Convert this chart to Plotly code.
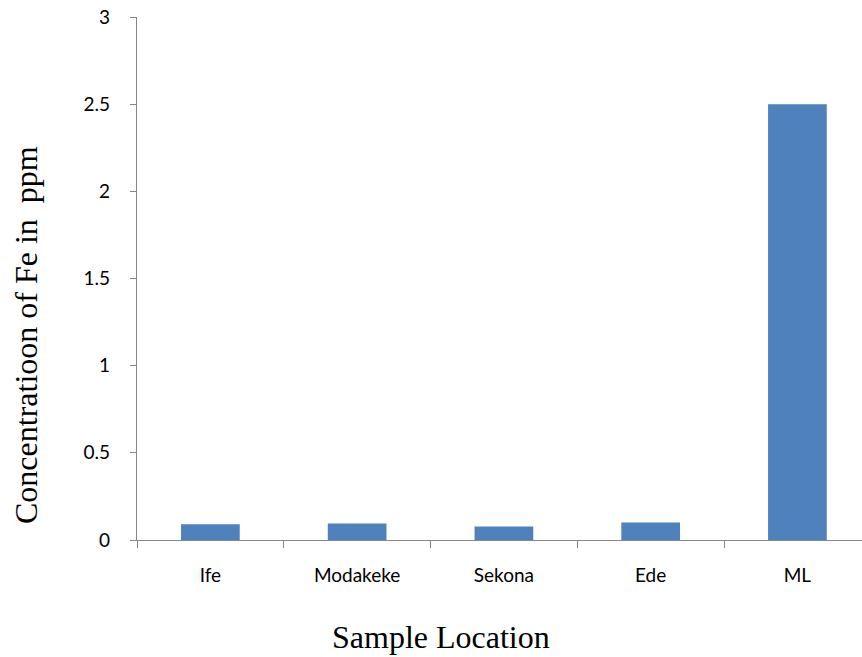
import plotly.graph_objects as go

categories = ["Ife", "Modakeke", "Sekona", "Ede", "ML"]
fe_ppm = [0.09, 0.095, 0.078, 0.1, 2.5]
y_ticks = [0, 0.5, 1, 1.5, 2, 2.5, 3]
y_tick_labels = ["0", "0.5", "1", "1.5", "2", "2.5", "3"]

W, H = 862, 657
L, R, T = 137, 0, 17
B = H - 540

fig = go.Figure(go.Bar(x=categories, y=fe_ppm, marker_color="#4F81BD",
                       marker_line_width=0, width=0.4))

fig.update_layout(
    width=W, height=H,
    margin=dict(l=L, r=R, t=T, b=B, autoexpand=False),
    paper_bgcolor="white", plot_bgcolor="white",
    showlegend=False,
    font=dict(family="Lato, Open Sans, sans-serif", size=19, color="black"),
    bargap=0.6,
)
fig.update_xaxes(
    range=[-0.5, 4.44], automargin=False,
    showline=True, linecolor="#868686", linewidth=1.3,
    ticks="outside", tickson="boundaries", ticklen=7, tickcolor="#868686",
    ticklabelstandoff=18, ticklabeloverflow="allow",
    showgrid=False, zeroline=False,
    tickfont=dict(size=19),
)
fig.update_yaxes(
    range=[0, 3], tickvals=y_ticks, ticktext=y_tick_labels, automargin=False,
    showline=True, linecolor="#868686", linewidth=1.3,
    ticks="outside", ticklen=6, tickcolor="#868686",
    ticklabelstandoff=16, ticklabeloverflow="allow",
    showgrid=False, zeroline=False,
    tickfont=dict(size=19),
)
plot_w = W - L - R
plot_h = H - T - B
fig.add_annotation(text="Concentratioon of Fe in  ppm", xref="paper", yref="paper",
                   x=(26 - L) / plot_w, y=(540 - 335) / plot_h,
                   xanchor="center", yanchor="middle",
                   textangle=-90, showarrow=False,
                   font=dict(family="Liberation Serif, Times New Roman, serif", size=32))
fig.add_annotation(text="Sample Location", xref="paper", yref="paper",
                   x=(441 - L) / plot_w, y=-(637 - 540) / plot_h,
                   xanchor="center", yanchor="middle",
                   showarrow=False,
                   font=dict(family="Liberation Serif, Times New Roman, serif", size=32))

fig.write_html("out.html", config={"displayModeBar": False},
               post_script="document.body.style.margin='0';document.body.style.overflow='hidden';")
